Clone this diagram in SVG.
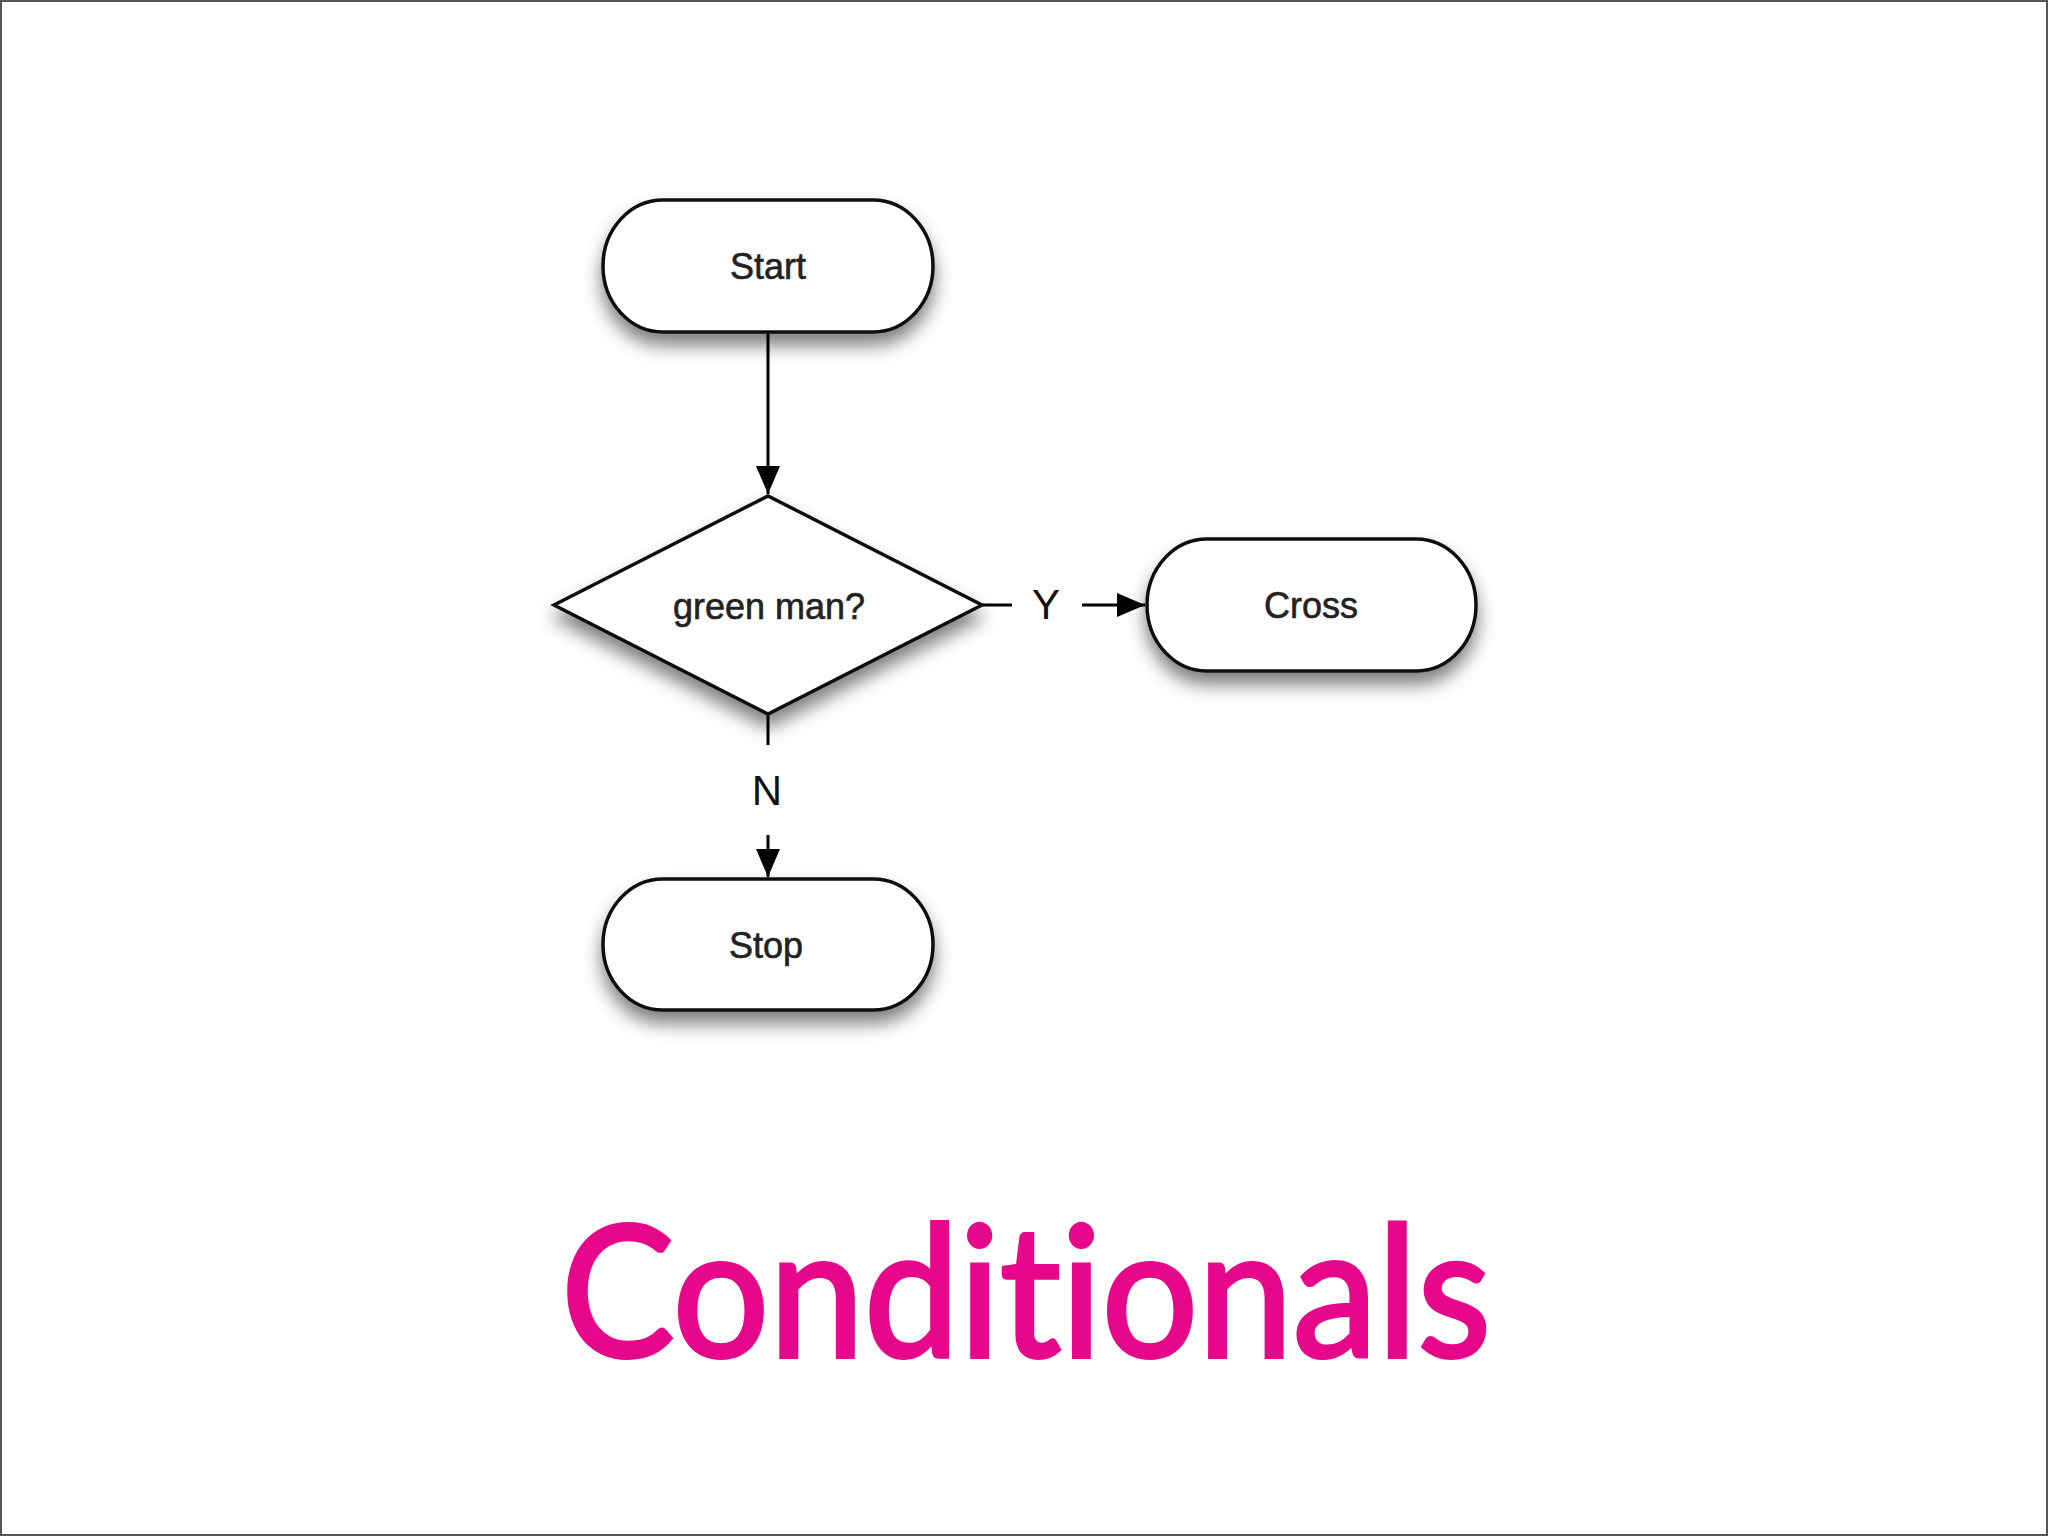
<svg xmlns="http://www.w3.org/2000/svg" width="2048" height="1536" viewBox="0 0 2048 1536">
<defs>
<filter id="sh" x="-20%" y="-30%" width="140%" height="180%">
<feDropShadow dx="0" dy="12" stdDeviation="9" flood-color="#000" flood-opacity="0.5"/>
</filter>
<marker id="ah" viewBox="0 0 28 24" refX="28" refY="12" markerWidth="28" markerHeight="24" markerUnits="userSpaceOnUse" orient="auto">
<path d="M0,0 L28,12 L0,24 Z" fill="#000"/>
</marker>
<style>
.term{fill:#fff;stroke:#111;stroke-width:3.5}
.lbl{font-family:"Liberation Sans",Arial,sans-serif;font-size:36px;fill:#222;stroke:#222;stroke-width:0.6;text-anchor:middle;dominant-baseline:central}
.yn{font-family:"Liberation Sans",Arial,sans-serif;font-size:42px;fill:#111;text-anchor:middle;dominant-baseline:central}
.ln{stroke:#000;stroke-width:3;fill:none}
.title{font-family:Lato,"Open Sans",sans-serif;font-size:182px;fill:#E6078B;stroke:#E6078B;stroke-width:4;font-variant-ligatures:none;font-feature-settings:"liga" 0,"clig" 0}
</style>
</defs>
<rect x="0" y="0" width="2048" height="1536" fill="#fff"/>
<rect x="1" y="1" width="2046" height="1534" fill="none" stroke="#555" stroke-width="2"/>
<g id="connectors">
<line class="ln" x1="768" y1="332" x2="768" y2="494" marker-end="url(#ah)"/>
<line class="ln" x1="982" y1="605" x2="1012" y2="605"/>
<line class="ln" x1="1082" y1="605" x2="1145" y2="605" marker-end="url(#ah)"/>
<line class="ln" x1="768" y1="714" x2="768" y2="745"/>
<line class="ln" x1="768" y1="835" x2="768" y2="877" marker-end="url(#ah)"/>
<text class="yn" x="1046" y="604">Y</text>
<text class="yn" x="767" y="790">N</text>
</g>
<g id="start">
<rect class="term" x="603" y="200" width="330" height="132" rx="60" ry="66" filter="url(#sh)"/>
<text class="lbl" x="768" y="266">Start</text>
</g>
<g id="decision">
<polygon class="term" points="554,605 768,496 982,605 768,714" filter="url(#sh)"/>
<text class="lbl" x="769" y="606">green man?</text>
</g>
<g id="cross">
<rect class="term" x="1147" y="539" width="329" height="132" rx="60" ry="66" filter="url(#sh)"/>
<text class="lbl" x="1311" y="605">Cross</text>
</g>
<g id="stop">
<rect class="term" x="603" y="879" width="330" height="131" rx="60" ry="65.5" filter="url(#sh)"/>
<text class="lbl" x="766" y="945">Stop</text>
</g>
<text class="title" x="561" y="1357" textLength="930" lengthAdjust="spacingAndGlyphs">Conditionals</text>
</svg>
